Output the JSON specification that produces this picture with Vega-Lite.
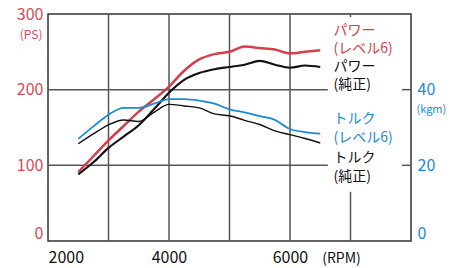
{
  "$schema": "https://vega.github.io/schema/vega-lite/v6.json",
  "width": 363,
  "height": 227,
  "autosize": {"type": "none"},
  "padding": {"left": 48, "top": 14, "right": 40, "bottom": 27},
  "background": "white",
  "config": {
    "view": {"stroke": "#333", "strokeWidth": 1.5},
    "font": "Noto Sans CJK JP"
  },
  "datasets": {
    "grid": [
      {"x": 3000, "x2": 3000, "y": 0, "y2": 300},
      {"x": 4000, "x2": 4000, "y": 0, "y2": 300},
      {"x": 5000, "x2": 5000, "y": 0, "y2": 300},
      {"x": 6000, "x2": 6000, "y": 0, "y2": 300},
      {"x": 7000, "x2": 7000, "y": 0, "y2": 65},
      {"x": 7000, "x2": 7000, "y": 296, "y2": 300},
      {"x": 2000, "x2": 6625, "y": 100, "y2": 100},
      {"x": 7850, "x2": 8000, "y": 100, "y2": 100},
      {"x": 2000, "x2": 6625, "y": 200, "y2": 200},
      {"x": 7850, "x2": 8000, "y": 200, "y2": 200}
    ],
    "power": [
      {"rpm": 2500, "ps": 91, "series": "パワー(レベル6)"},
      {"rpm": 2750, "ps": 112, "series": "パワー(レベル6)"},
      {"rpm": 3000, "ps": 133, "series": "パワー(レベル6)"},
      {"rpm": 3250, "ps": 152, "series": "パワー(レベル6)"},
      {"rpm": 3500, "ps": 171, "series": "パワー(レベル6)"},
      {"rpm": 3750, "ps": 187, "series": "パワー(レベル6)"},
      {"rpm": 4000, "ps": 204, "series": "パワー(レベル6)"},
      {"rpm": 4250, "ps": 225, "series": "パワー(レベル6)"},
      {"rpm": 4500, "ps": 240, "series": "パワー(レベル6)"},
      {"rpm": 4750, "ps": 247, "series": "パワー(レベル6)"},
      {"rpm": 5000, "ps": 250, "series": "パワー(レベル6)"},
      {"rpm": 5250, "ps": 257, "series": "パワー(レベル6)"},
      {"rpm": 5500, "ps": 255, "series": "パワー(レベル6)"},
      {"rpm": 5750, "ps": 253, "series": "パワー(レベル6)"},
      {"rpm": 6000, "ps": 248, "series": "パワー(レベル6)"},
      {"rpm": 6250, "ps": 250, "series": "パワー(レベル6)"},
      {"rpm": 6500, "ps": 252, "series": "パワー(レベル6)"},
      {"rpm": 2500, "ps": 88, "series": "パワー(純正)"},
      {"rpm": 2750, "ps": 104, "series": "パワー(純正)"},
      {"rpm": 3000, "ps": 123, "series": "パワー(純正)"},
      {"rpm": 3250, "ps": 138, "series": "パワー(純正)"},
      {"rpm": 3500, "ps": 153, "series": "パワー(純正)"},
      {"rpm": 3750, "ps": 174, "series": "パワー(純正)"},
      {"rpm": 4000, "ps": 196, "series": "パワー(純正)"},
      {"rpm": 4250, "ps": 213, "series": "パワー(純正)"},
      {"rpm": 4500, "ps": 222, "series": "パワー(純正)"},
      {"rpm": 4750, "ps": 227, "series": "パワー(純正)"},
      {"rpm": 5000, "ps": 230, "series": "パワー(純正)"},
      {"rpm": 5250, "ps": 233, "series": "パワー(純正)"},
      {"rpm": 5500, "ps": 238, "series": "パワー(純正)"},
      {"rpm": 5750, "ps": 233, "series": "パワー(純正)"},
      {"rpm": 6000, "ps": 229, "series": "パワー(純正)"},
      {"rpm": 6250, "ps": 232, "series": "パワー(純正)"},
      {"rpm": 6500, "ps": 230, "series": "パワー(純正)"}
    ],
    "torque": [
      {"rpm": 2500, "kgm": 27.0, "series": "トルク(レベル6)"},
      {"rpm": 2750, "kgm": 30.3, "series": "トルク(レベル6)"},
      {"rpm": 3000, "kgm": 33.4, "series": "トルク(レベル6)"},
      {"rpm": 3250, "kgm": 35.2, "series": "トルク(レベル6)"},
      {"rpm": 3500, "kgm": 35.2, "series": "トルク(レベル6)"},
      {"rpm": 3750, "kgm": 36.3, "series": "トルク(レベル6)"},
      {"rpm": 4000, "kgm": 37.5, "series": "トルク(レベル6)"},
      {"rpm": 4250, "kgm": 37.5, "series": "トルク(レベル6)"},
      {"rpm": 4500, "kgm": 37.1, "series": "トルク(レベル6)"},
      {"rpm": 4750, "kgm": 36.3, "series": "トルク(レベル6)"},
      {"rpm": 5000, "kgm": 34.8, "series": "トルク(レベル6)"},
      {"rpm": 5250, "kgm": 34.0, "series": "トルク(レベル6)"},
      {"rpm": 5500, "kgm": 33.0, "series": "トルク(レベル6)"},
      {"rpm": 5750, "kgm": 32.0, "series": "トルク(レベル6)"},
      {"rpm": 6000, "kgm": 29.6, "series": "トルク(レベル6)"},
      {"rpm": 6250, "kgm": 28.8, "series": "トルク(レベル6)"},
      {"rpm": 6500, "kgm": 28.4, "series": "トルク(レベル6)"},
      {"rpm": 2500, "kgm": 25.7, "series": "トルク(純正)"},
      {"rpm": 2750, "kgm": 28.3, "series": "トルク(純正)"},
      {"rpm": 3000, "kgm": 30.7, "series": "トルク(純正)"},
      {"rpm": 3250, "kgm": 32.0, "series": "トルク(純正)"},
      {"rpm": 3500, "kgm": 31.6, "series": "トルク(純正)"},
      {"rpm": 3750, "kgm": 34.0, "series": "トルク(純正)"},
      {"rpm": 4000, "kgm": 36.1, "series": "トルク(純正)"},
      {"rpm": 4250, "kgm": 35.7, "series": "トルク(純正)"},
      {"rpm": 4500, "kgm": 35.2, "series": "トルク(純正)"},
      {"rpm": 4750, "kgm": 33.6, "series": "トルク(純正)"},
      {"rpm": 5000, "kgm": 33.1, "series": "トルク(純正)"},
      {"rpm": 5250, "kgm": 31.9, "series": "トルク(純正)"},
      {"rpm": 5500, "kgm": 30.8, "series": "トルク(純正)"},
      {"rpm": 5750, "kgm": 29.1, "series": "トルク(純正)"},
      {"rpm": 6000, "kgm": 28.1, "series": "トルク(純正)"},
      {"rpm": 6250, "kgm": 27.1, "series": "トルク(純正)"},
      {"rpm": 6500, "kgm": 25.9, "series": "トルク(純正)"}
    ],
    "labels": [
      {"text": "パワー", "rpm": 6720, "ps": 278, "series": "パワー(レベル6)"},
      {"text": "(レベル6)", "rpm": 6720, "ps": 254, "series": "パワー(レベル6)"},
      {"text": "パワー", "rpm": 6720, "ps": 230, "series": "パワー(純正)"},
      {"text": "(純正)", "rpm": 6720, "ps": 206, "series": "パワー(純正)"},
      {"text": "トルク", "rpm": 6720, "ps": 161, "series": "トルク(レベル6)"},
      {"text": "(レベル6)", "rpm": 6720, "ps": 136, "series": "トルク(レベル6)"},
      {"text": "トルク", "rpm": 6720, "ps": 110, "series": "トルク(純正)"},
      {"text": "(純正)", "rpm": 6720, "ps": 85, "series": "トルク(純正)"}
    ]
  },
  "layer": [
    {
      "layer": [
        {
          "data": {"name": "grid"},
          "mark": {"type": "rule", "color": "#555", "strokeWidth": 1.5},
          "encoding": {
            "x": {"field": "x", "type": "quantitative", "scale": {"domain": [2000, 8000], "nice": false},
              "axis": {"values": [2000, 4000, 6000], "format": "d", "ticks": false, "domain": false, "grid": false, "labelPadding": 8, "labelFontSize": 16, "labelColor": "#111", "labelFont": "Noto Sans CJK JP",
                "title": "(RPM)", "titleFontWeight": "normal", "titleFontSize": 14, "titleColor": "#111", "titleX": 293, "titleY": 17, "titleBaseline": "middle", "titleAlign": "center", "titleFont": "Noto Sans CJK JP"}},
            "x2": {"field": "x2"},
            "y": {"field": "y", "type": "quantitative", "scale": {"domain": [0, 300], "nice": false},
              "axis": {"values": [0, 100, 200, 300], "ticks": false, "domain": false, "grid": false, "labelPadding": 5, "labelFontSize": 16, "labelColor": "#d64b55", "labelFont": "Noto Sans CJK JP",
                "labelBaseline": {"condition": {"test": "datum.value == 0", "value": "bottom"}, "value": "middle"},
                "title": "(PS)", "titleAngle": 0, "titleFontWeight": "normal", "titleFontSize": 12, "titleColor": "#d64b55", "titleX": -6, "titleY": 20, "titleAlign": "right", "titleBaseline": "middle", "titleFont": "Noto Sans CJK JP"}},
            "y2": {"field": "y2"}
          }
        },
        {
          "data": {"name": "power"},
          "mark": {"type": "line", "interpolate": "monotone"},
          "encoding": {
            "x": {"field": "rpm", "type": "quantitative"},
            "y": {"field": "ps", "type": "quantitative"},
            "color": {"field": "series", "type": "nominal", "legend": null,
              "scale": {"domain": ["パワー(レベル6)", "パワー(純正)", "トルク(レベル6)", "トルク(純正)"], "range": ["#d33f4a", "#111111", "#1a8ad2", "#111111"]}},
            "strokeWidth": {"field": "series", "type": "nominal", "legend": null,
              "scale": {"domain": ["パワー(レベル6)", "パワー(純正)", "トルク(レベル6)", "トルク(純正)"], "range": [2.5, 1.4, 2.5, 1.4]}}
          }
        },
        {
          "data": {"name": "labels"},
          "mark": {"type": "text", "align": "left", "baseline": "middle", "fontSize": 14, "font": "Noto Sans CJK JP"},
          "encoding": {
            "x": {"field": "rpm", "type": "quantitative"},
            "y": {"field": "ps", "type": "quantitative"},
            "text": {"field": "text"},
            "color": {"field": "series", "type": "nominal", "legend": null}
          }
        }
      ]
    },
    {
      "data": {"name": "torque"},
      "mark": {"type": "line", "interpolate": "monotone"},
      "encoding": {
        "x": {"field": "rpm", "type": "quantitative"},
        "y": {"field": "kgm", "type": "quantitative", "scale": {"domain": [0, 60], "nice": false},
          "axis": {"orient": "right", "values": [0, 20, 40], "ticks": false, "domain": false, "grid": false, "labelPadding": 6, "labelFontSize": 16, "labelColor": "#1a8ad2", "labelFont": "Noto Sans CJK JP",
            "labelBaseline": {"condition": {"test": "datum.value == 0", "value": "bottom"}, "value": "middle"},
            "title": "(kgm)", "titleAngle": 0, "titleFontWeight": "normal", "titleFontSize": 11, "titleColor": "#1a8ad2", "titleX": 5, "titleY": 95, "titleAlign": "left", "titleBaseline": "middle", "titleFont": "Noto Sans CJK JP"}},
        "color": {"field": "series", "type": "nominal", "legend": null},
        "strokeWidth": {"field": "series", "type": "nominal", "legend": null}
      }
    }
  ],
  "resolve": {"scale": {"y": "independent"}}
}
